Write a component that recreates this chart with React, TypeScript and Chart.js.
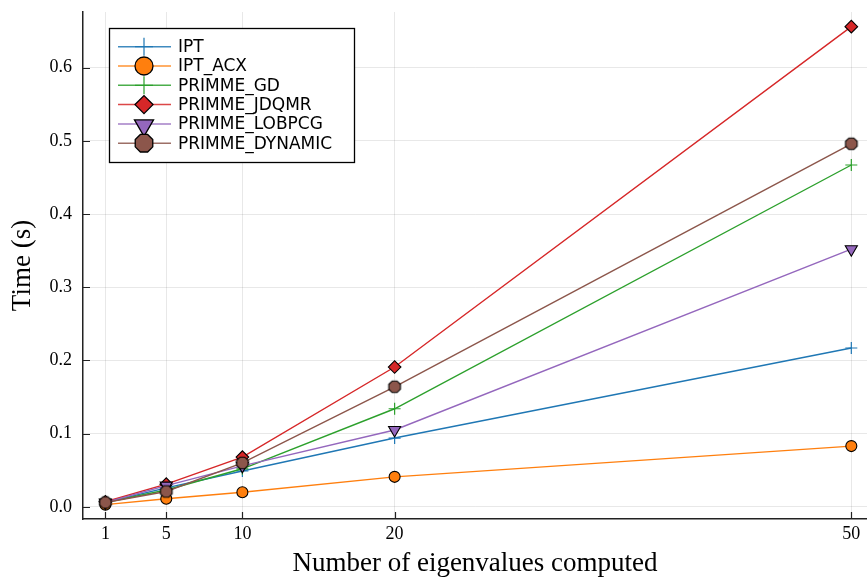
import React, { useEffect, useRef } from 'react';
import { Chart, registerables } from 'chart.js';

Chart.register(...registerables);

// ---- data ----
const xValues = [1, 5, 10, 20, 50];
const xTickValues = [1, 5, 10, 20, 50];
const yTickValues = [0, 0.1, 0.2, 0.3, 0.4, 0.5, 0.6];

const seriesNames = ['IPT', 'IPT_ACX', 'PRIMME_GD', 'PRIMME_JDQMR', 'PRIMME_LOBPCG', 'PRIMME_DYNAMIC'];
const iptValues = [0.006, 0.026, 0.049, 0.094, 0.217];
const iptAcxValues = [0.003, 0.011, 0.020, 0.041, 0.083];
const gdValues = [0.006, 0.023, 0.052, 0.134, 0.467];
const jdqmrValues = [0.007, 0.031, 0.068, 0.191, 0.656];
const lobpcgValues = [0.006, 0.029, 0.056, 0.105, 0.352];
const dynamicValues = [0.006, 0.021, 0.060, 0.164, 0.496];

const seriesValues = [iptValues, iptAcxValues, gdValues, jdqmrValues, lobpcgValues, dynamicValues];
const seriesColors = ['#1f77b4', '#ff7f0e', '#2ca02c', '#d62728', '#9467bd', '#8c564b'];
const seriesShapes = ['cross', 'circle', 'cross', 'diamond', 'dtriangle', 'octagon'];

const X_MIN = -0.47;
const X_MAX = 51.03;
const Y_MIN = -0.0166;
const Y_MAX = 0.676;

const xTitle = 'Number of eigenvalues computed';
const yTitle = 'Time (s)';

const SERIF = '"Liberation Serif", "Times New Roman", serif';
const SANS = '"DejaVu Sans", sans-serif';

function polygonPath(ctx: CanvasRenderingContext2D, x: number, y: number, r: number, n: number, start: number) {
  ctx.beginPath();
  for (let k = 0; k < n; k++) {
    const a = start + (k * 2 * Math.PI) / n;
    const px = x + r * Math.cos(a);
    const py = y + r * Math.sin(a);
    if (k === 0) ctx.moveTo(px, py);
    else ctx.lineTo(px, py);
  }
  ctx.closePath();
}

function makeOctagon(r: number, fill: string): HTMLCanvasElement {
  const size = Math.ceil(2 * r + 3);
  const c = document.createElement('canvas');
  c.width = size;
  c.height = size;
  const ctx = c.getContext('2d')!;
  polygonPath(ctx, size / 2, size / 2, r, 8, Math.PI / 8);
  ctx.fillStyle = fill;
  ctx.fill();
  ctx.lineWidth = 1.1;
  ctx.strokeStyle = '#000';
  ctx.stroke();
  return c;
}

function drawMarker(ctx: CanvasRenderingContext2D, shape: string, x: number, y: number, r: number, color: string) {
  ctx.save();
  ctx.lineWidth = shape === 'cross' ? 1.2 : 1.3;
  ctx.strokeStyle = shape === 'cross' ? color : '#000';
  ctx.fillStyle = color;
  if (shape === 'cross') {
    ctx.beginPath();
    ctx.moveTo(x - r, y);
    ctx.lineTo(x + r, y);
    ctx.moveTo(x, y - r);
    ctx.lineTo(x, y + r);
    ctx.stroke();
  } else if (shape === 'circle') {
    ctx.beginPath();
    ctx.arc(x, y, r, 0, Math.PI * 2);
    ctx.fill();
    ctx.stroke();
  } else if (shape === 'diamond') {
    polygonPath(ctx, x, y, r, 4, 0);
    ctx.fill();
    ctx.stroke();
  } else if (shape === 'dtriangle') {
    polygonPath(ctx, x, y + r * 0.15, r * 1.1, 3, Math.PI / 2);
    ctx.fill();
    ctx.stroke();
  } else if (shape === 'octagon') {
    polygonPath(ctx, x, y, r, 8, Math.PI / 8);
    ctx.fill();
    ctx.stroke();
  }
  ctx.restore();
}

const overlayPlugin = {
  id: 'overlay',
  afterDraw(chart: any) {
    const ctx: CanvasRenderingContext2D = chart.ctx;
    const xs = chart.scales.x;
    const ys = chart.scales.y;
    const ca = chart.chartArea;
    ctx.save();
    // inward tick marks
    ctx.strokeStyle = '#222';
    ctx.lineWidth = 1.2;
    ctx.beginPath();
    for (const v of xTickValues) {
      const px = Math.round(xs.getPixelForValue(v)) + 0.5;
      ctx.moveTo(px, ca.bottom);
      ctx.lineTo(px, ca.bottom - 7);
    }
    for (const v of yTickValues) {
      const py = Math.round(ys.getPixelForValue(v)) + 0.5;
      ctx.moveTo(ca.left, py);
      ctx.lineTo(ca.left + 7, py);
    }
    ctx.stroke();

    // legend
    const bx = 109.5, by = 28.5, bw = 245, bh = 134;
    ctx.fillStyle = '#fff';
    ctx.fillRect(bx, by, bw, bh);
    ctx.strokeStyle = '#000';
    ctx.lineWidth = 1.3;
    ctx.strokeRect(bx, by, bw, bh);
    const legendSizes = [9, 9, 9, 9, 10, 9.5];
    ctx.font = '17px ' + SANS;
    ctx.textBaseline = 'middle';
    ctx.textAlign = 'left';
    seriesNames.forEach((name, i) => {
      const ry = 46.7 + i * 19.3;
      ctx.strokeStyle = seriesColors[i];
      ctx.globalAlpha = 0.85;
      ctx.lineWidth = 1.5;
      ctx.beginPath();
      ctx.moveTo(118, ry);
      ctx.lineTo(171, ry);
      ctx.stroke();
      ctx.globalAlpha = 1;
      drawMarker(ctx, seriesShapes[i], 144, ry, legendSizes[i], seriesColors[i]);
      ctx.fillStyle = '#000';
      ctx.fillText(name, 178, ry + 1);
    });
    ctx.restore();
  },
};

export default function App() {
  const canvasRef = useRef<HTMLCanvasElement | null>(null);

  useEffect(() => {
    const canvas = canvasRef.current;
    if (!canvas) return;
    const octagon = makeOctagon(6.3, seriesColors[5]);
    const pointStyleFor = (shape: string): any => {
      if (shape === 'cross') return 'cross';
      if (shape === 'circle') return 'circle';
      if (shape === 'diamond') return 'rectRot';
      if (shape === 'dtriangle') return 'triangle';
      return octagon;
    };
    const radiusFor = (shape: string) => {
      if (shape === 'cross') return 6;
      if (shape === 'circle') return 5.5;
      if (shape === 'diamond') return 6.3;
      if (shape === 'dtriangle') return 7;
      return 6;
    };

    const datasets = seriesNames.map((name, i) => {
      const shape = seriesShapes[i];
      return {
        label: name,
        data: xValues.map((x, j) => ({ x, y: seriesValues[i][j] })),
        borderColor: seriesColors[i],
        backgroundColor: seriesColors[i],
        borderWidth: 1.4,
        pointStyle: pointStyleFor(shape),
        pointRadius: radiusFor(shape),
        pointRotation: shape === 'dtriangle' ? 180 : 0,
        pointBackgroundColor: seriesColors[i],
        pointBorderColor: shape === 'cross' ? seriesColors[i] : '#000',
        pointBorderWidth: shape === 'cross' ? 1.2 : 1.1,
        showLine: true,
        fill: false,
        tension: 0,
        order: seriesNames.length - 1 - i,
      };
    });

    const chart = new Chart(canvas, {
      type: 'scatter',
      data: { datasets },
      options: {
        animation: false,
        responsive: false,
        devicePixelRatio: 1,
        layout: { autoPadding: false, padding: { top: 12, left: 0, right: 0, bottom: 0 } },
        plugins: {
          legend: { display: false },
          tooltip: { enabled: false },
        },
        scales: {
          x: {
            type: 'linear',
            min: X_MIN,
            max: X_MAX,
            afterBuildTicks: (scale: any) => {
              scale.ticks = xTickValues.map((v) => ({ value: v }));
            },
            afterFit: (scale: any) => {
              scale.height = 59;
              scale.paddingLeft = 0;
              scale.paddingRight = 0;
            },
            grid: { color: 'rgba(0,0,0,0.09)', lineWidth: 1, drawTicks: false },
            border: { display: true, color: '#222', width: 1.5 },
            ticks: {
              autoSkip: false,
              maxRotation: 0,
              padding: 4.5,
              color: '#000',
              font: { family: SERIF, size: 18 },
              callback: (v: any) => String(v),
            },
            title: {
              display: true,
              text: xTitle,
              color: '#000',
              font: { family: SERIF, size: 27 },
              padding: { top: 0, bottom: -2 },
            },
          },
          y: {
            type: 'linear',
            min: Y_MIN,
            max: Y_MAX,
            afterBuildTicks: (scale: any) => {
              scale.ticks = yTickValues.map((v) => ({ value: v }));
            },
            afterFit: (scale: any) => {
              scale.width = 83;
              scale.paddingTop = 0;
              scale.paddingBottom = 0;
            },
            grid: { color: 'rgba(0,0,0,0.09)', lineWidth: 1, drawTicks: false },
            border: { display: true, color: '#222', width: 1.5 },
            ticks: {
              padding: 11,
              color: '#000',
              font: { family: SERIF, size: 18 },
              callback: (v: any) => Number(v).toFixed(1),
            },
            title: {
              display: true,
              text: yTitle,
              color: '#000',
              font: { family: SERIF, size: 27 },
              padding: { top: 7, bottom: 0 },
            },
          },
        },
      },
      plugins: [overlayPlugin],
    });

    return () => {
      chart.destroy();
    };
  }, []);

  return (
    <div style={{ position: 'absolute', left: 0, top: 0, width: 867, height: 578, background: '#fff' }}>
      <canvas ref={canvasRef} width={867} height={578} style={{ display: 'block' }} />
    </div>
  );
}
